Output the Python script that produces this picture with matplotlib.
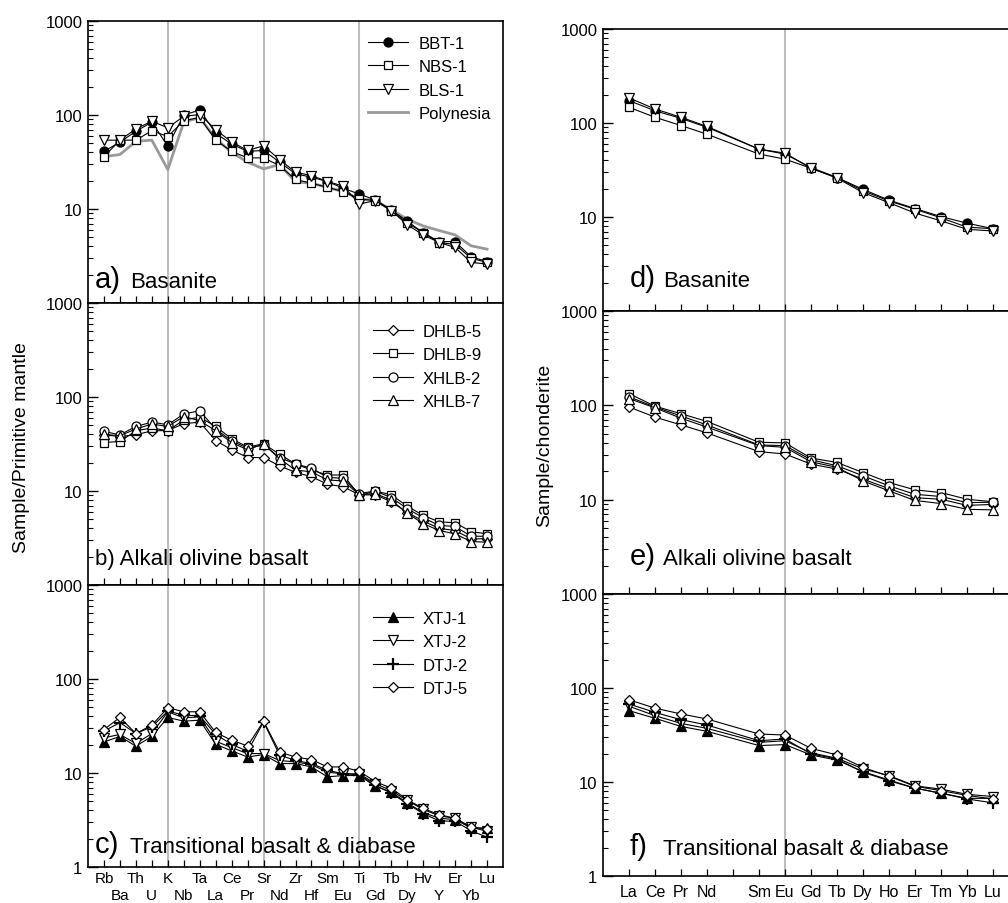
import matplotlib
matplotlib.use("Agg")
import matplotlib.pyplot as plt

plt.rcParams['font.family'] = ['Liberation Sans', 'DejaVu Sans']

# element order, primitive-mantle spider diagram (left column)
spider_elements = ['Rb', 'Ba', 'Th', 'U', 'K', 'Nb', 'Ta', 'La', 'Ce', 'Pr', 'Sr', 'Nd', 'Zr',
                   'Hf', 'Sm', 'Eu', 'Ti', 'Gd', 'Tb', 'Dy', 'Hv', 'Y', 'Er', 'Yb', 'Lu']
# chondrite REE pattern (right column), Pm slot left empty
ree_slots = ['La', 'Ce', 'Pr', 'Nd', '', 'Sm', 'Eu', 'Gd', 'Tb', 'Dy', 'Ho', 'Er', 'Tm', 'Yb', 'Lu']

# --- primitive mantle normalised ---
bbt1_pm = [41, 51.5, 67, 84, 46.7, 100, 113, 64, 49, 41, 42, 31.5, 23.7, 21.8, 19.6, 16.6,
           14.4, 12.5, 9.8, 7.4, 5.6, 4.5, 4.5, 3.1, 2.76]
nbs1_pm = [36, 54, 54, 68, 59, 87, 94, 54, 41, 35, 35, 29, 20.6, 18.8, 17, 15.3,
           12.8, 12.3, 9.6, 7.1, 5.6, 4.4, 4.2, 3.0, 2.7]
bls1_pm = [54, 54, 71, 86, 73, 97, 101, 70, 51.5, 42, 47, 33.6, 24.6, 22.7, 19.6, 17.5,
           11.3, 12.3, 9.6, 6.8, 5.3, 4.4, 3.9, 2.7, 2.6]
polynesia_pm = [36, 38, 52.4, 54, 26.3, 84, 94, 56, 40, 31.5, 26.7, 29.7, 19.5, 18.8, 17, 15.3,
                12.8, 12.3, 9.8, 7.8, 6.6, 5.9, 5.3, 4.06, 3.74]

dhlb5_pm = [39.6, 38, 39.6, 43.7, 44, 52, 54, 34.4, 27.4, 22.7, 22.7, 18.5, 15.8, 14.2, 11.8, 11.1,
            9.1, 9.1, 7.7, 5.9, 4.8, 4.0, 3.8, 3.1, 3.1]
dhlb9_pm = [32.8, 33.6, 43.7, 46.8, 43.7, 57, 61, 48.6, 35.9, 29.3, 31.8, 24.6, 19.4, 16.7, 14.8, 14.8,
            8.9, 10, 9.1, 6.9, 5.5, 4.7, 4.6, 3.7, 3.5]
xhlb2_pm = [43, 39.6, 48.6, 54, 50.7, 66, 71.4, 45.5, 34.2, 28.5, 31, 22.7, 19.4, 17.5, 14, 13.6,
            9.4, 10, 8.5, 6.5, 5.2, 4.3, 4.2, 3.3, 3.3]
xhlb7_pm = [40, 38.8, 45.7, 51.5, 48.6, 62, 56, 43.7, 32.8, 27.4, 31.8, 22, 16.7, 16, 13.1, 12.8,
            9.1, 9.4, 8, 5.8, 4.5, 3.8, 3.5, 2.9, 2.85]

xtj1_pm = [21.4, 24.5, 19.3, 24.5, 39, 35.6, 36.5, 20.2, 17.2, 14.8, 15.7, 12.6, 12.6, 11.6, 9.1, 9.4,
           9.4, 7.2, 6.3, 4.8, 3.8, 3.3, 3.2, 2.6, 2.6]
xtj2_pm = [23.7, 25.7, 20.6, 26.3, 44.8, 38.6, 39.6, 21.8, 18.6, 16.1, 16.1, 13.6, 13.1, 12.3, 10.2, 9.8,
           9.8, 7.7, 6.5, 5.1, 4.1, 3.5, 3.3, 2.65, 2.4]
dtj2_pm = [27.9, 34.4, 26.3, 31, 45.5, 41.3, 40.6, 25.7, 20.2, 17, 35, 15.5, 13.6, 12.6, 10.7, 9.8,
           9.6, 7.4, 6.1, 4.7, 3.7, 3.1, 3.06, 2.44, 2.07]
dtj5_pm = [29, 39, 26.3, 32.3, 49.5, 44.8, 44.8, 27, 22.3, 19.4, 35.6, 16.7, 14.8, 13.9, 11.6, 11.6,
           10.4, 8.1, 6.9, 5.2, 4.2, 3.6, 3.3, 2.65, 2.55]

# --- chondrite normalised REE ---
bbt1_ch = [173, 135, 112, 90, 52.7, 46.7, 33.6, 26.3, 19.7, 15.1, 12.3, 10.1, 8.6, 7.5]
nbs1_ch = [147, 115, 94, 76, 46.7, 41.3, 33, 26.3, 19, 14.8, 12.1, 9.8, 7.8, 7.5]
bls1_ch = [185, 141, 115, 92, 52.7, 47.8, 33, 25.9, 18.2, 14.2, 11, 9.1, 7.4, 7.1]

dhlb5_ch = [96, 75, 62, 51, 32.3, 30.5, 23.8, 21.1, 16.5, 13.1, 10.5, 10.1, 8.7, 8.9]
dhlb9_ch = [133, 98, 81.5, 67.5, 40.6, 40, 27.6, 24.8, 19.4, 15.2, 12.7, 11.9, 10.1, 9.5]
xhlb2_ch = [123, 96, 77, 62, 38, 37.4, 26.5, 22.9, 17.9, 14, 11.4, 10.8, 9.3, 9.4]
xhlb7_ch = [118, 94, 73, 58.7, 37.4, 35.9, 25.2, 22, 15.8, 12.4, 9.8, 9.1, 7.9, 7.8]

xtj1_ch = [57.4, 47.6, 39, 34.6, 24.4, 25, 19.4, 17.1, 12.9, 10.5, 8.6, 7.6, 6.7, 6.7]
xtj2_ch = [64, 50.8, 42, 37.2, 26.4, 27.5, 20.4, 17.9, 13.8, 11.7, 9.1, 8.4, 7.4, 7.0]
dtj2_ch = [67.6, 55, 46, 40.4, 27.5, 28.7, 19.9, 17.6, 12.7, 10.3, 8.6, 7.6, 6.6, 6.0]
dtj5_ch = [75, 61, 53, 46.8, 32.4, 31.6, 22.8, 19.4, 14.3, 11.5, 9.0, 8.1, 7.2, 6.6]

# marker styles per sample
STYLE = {
    'BBT-1': dict(marker='o', mfc='black', ms=6.5),
    'NBS-1': dict(marker='s', mfc='white', ms=6),
    'BLS-1': dict(marker='v', mfc='white', ms=7.5),
    'DHLB-5': dict(marker='D', mfc='white', ms=5.5),
    'DHLB-9': dict(marker='s', mfc='white', ms=6),
    'XHLB-2': dict(marker='o', mfc='white', ms=6.5),
    'XHLB-7': dict(marker='^', mfc='white', ms=7.5),
    'XTJ-1': dict(marker='^', mfc='black', ms=7),
    'XTJ-2': dict(marker='v', mfc='white', ms=7.5),
    'DTJ-2': dict(marker='+', mfc='black', ms=9, mew=1.6),
    'DTJ-5': dict(marker='D', mfc='white', ms=5.5),
}

W, H = 1008, 904
fig = plt.figure(figsize=(W / 100, H / 100), dpi=100)


def make_axes(left_px, right_px, top_px, bottom_px):
    return fig.add_axes([left_px / W, 1 - bottom_px / H,
                         (right_px - left_px) / W, (bottom_px - top_px) / H])


def setup_axes(ax, nslots, show_one):
    ax.set_yscale('log')
    ax.set_ylim(1, 1000)
    ax.set_xlim(-1, nslots)
    ax.set_yticks([1, 10, 100, 1000])
    ax.set_yticklabels(['1' if show_one else '', '10', '100', '1000'], fontsize=12)
    ax.tick_params(axis='y', which='major', direction='in', length=7, width=1, pad=4)
    ax.tick_params(axis='y', which='minor', direction='in', length=3.5, width=0.8)
    ax.tick_params(axis='x', which='both', direction='in', length=5, width=0.9, top=False)
    for s in ax.spines.values():
        s.set_linewidth(1.2)


def draw_series(ax, xs, ys, name):
    st = STYLE[name]
    ax.plot(xs, ys, color='black', lw=0.8, marker=st['marker'], ms=st['ms'],
            mfc=st['mfc'], mec='black', mew=st.get('mew', 0.9), label=name, zorder=3)


def label_panel(ax, letter, name, xl, xn, yb, big=True):
    if big:
        ax.text(xl, yb, letter, transform=ax.transAxes, fontsize=21, va='baseline')
        ax.text(xn, yb, name, transform=ax.transAxes, fontsize=16, va='baseline')
    else:
        ax.text(xl, yb, letter + ' ' + name, transform=ax.transAxes, fontsize=16, va='baseline')


def add_legend(ax, x, y):
    ax.legend(loc='upper left', bbox_to_anchor=(x, y), frameon=False, fontsize=12,
              borderpad=0, borderaxespad=0, handlelength=2.4, handletextpad=0.6,
              labelspacing=0.5)


# ---------- left column: spider diagrams ----------
sp_x = list(range(len(spider_elements)))
sp_guides = [spider_elements.index(e) for e in ['K', 'Sr', 'Ti']]
# labels alternate between two rows: even slots on top (major), odd below (minor)
even_x = sp_x[0::2]
odd_x = sp_x[1::2]

left_panels = [
    (22, 304, [('BBT-1', bbt1_pm), ('NBS-1', nbs1_pm), ('BLS-1', bls1_pm)], 'a)', 'Basanite', 0.057, 0.675, 0.947),
    (304, 586, [('DHLB-5', dhlb5_pm), ('DHLB-9', dhlb9_pm), ('XHLB-2', xhlb2_pm), ('XHLB-7', xhlb7_pm)],
     'b)', 'Alkali olivine basalt', 0.074, 0.687, 0.926),
    (586, 868, [('XTJ-1', xtj1_pm), ('XTJ-2', xtj2_pm), ('DTJ-2', dtj2_pm), ('DTJ-5', dtj5_pm)],
     'c)', 'Transitional basalt & diabase', 0.053, 0.687, 0.908),
]

for k, (top, bot, series, letter, name, yb, lx, ly) in enumerate(left_panels):
    ax = make_axes(88, 503, top, bot)
    last = k == len(left_panels) - 1
    setup_axes(ax, len(spider_elements), last)
    for g in sp_guides:
        ax.axvline(g, color='#bdbdbd', lw=1.5, zorder=0)
    for nm, ys in series:
        draw_series(ax, sp_x, ys, nm)
    if letter == 'a)':
        ax.plot(sp_x, polynesia_pm, color='#999999', lw=2, label='Polynesia', zorder=2)
    ax.set_xticks(even_x)
    ax.set_xticks(odd_x, minor=True)
    if last:
        ax.set_xticklabels(spider_elements[0::2], fontsize=11)
        ax.set_xticklabels(spider_elements[1::2], minor=True, fontsize=11)
        ax.tick_params(axis='x', which='major', pad=3)
        ax.tick_params(axis='x', which='minor', pad=15)
    else:
        ax.set_xticklabels([])
    label_panel(ax, letter, name, 0.017, 0.101, yb, big=(letter != 'b)'))
    add_legend(ax, lx, ly)

# ---------- right column: REE patterns ----------
ree_x = [i for i, e in enumerate(ree_slots) if e]
eu_pos = ree_slots.index('Eu')

right_panels = [
    (30, 312, [('BBT-1', bbt1_ch), ('NBS-1', nbs1_ch), ('BLS-1', bls1_ch)], 'd)', 'Basanite', 0.089),
    (312, 595, [('DHLB-5', dhlb5_ch), ('DHLB-9', dhlb9_ch), ('XHLB-2', xhlb2_ch), ('XHLB-7', xhlb7_ch)],
     'e)', 'Alkali olivine basalt', 0.106),
    (595, 877, [('XTJ-1', xtj1_ch), ('XTJ-2', xtj2_ch), ('DTJ-2', dtj2_ch), ('DTJ-5', dtj5_ch)],
     'f)', 'Transitional basalt & diabase', 0.078),
]

for k, (top, bot, series, letter, name, yb) in enumerate(right_panels):
    # right spine sits just past the figure edge, as in the original crop
    ax = make_axes(603, 1019, top, bot)
    last = k == len(right_panels) - 1
    setup_axes(ax, len(ree_slots), last)
    ax.axvline(eu_pos, color='#bdbdbd', lw=1.5, zorder=0)
    for nm, ys in series:
        draw_series(ax, ree_x, ys, nm)
    ax.set_xticks(range(len(ree_slots)))
    if last:
        ax.set_xticklabels(ree_slots, fontsize=11.5)
        ax.tick_params(axis='x', pad=6)
    else:
        ax.set_xticklabels([])
    label_panel(ax, letter, name, 0.065, 0.144, yb)

fig.text(22 / W, 1 - 448 / H, 'Sample/Primitive mantle', rotation=90, ha='center', va='center', fontsize=14)
fig.text(545 / W, 1 - 445 / H, 'Sample/chonderite', rotation=90, ha='center', va='center', fontsize=14)

fig.savefig('out.png', dpi=100)
